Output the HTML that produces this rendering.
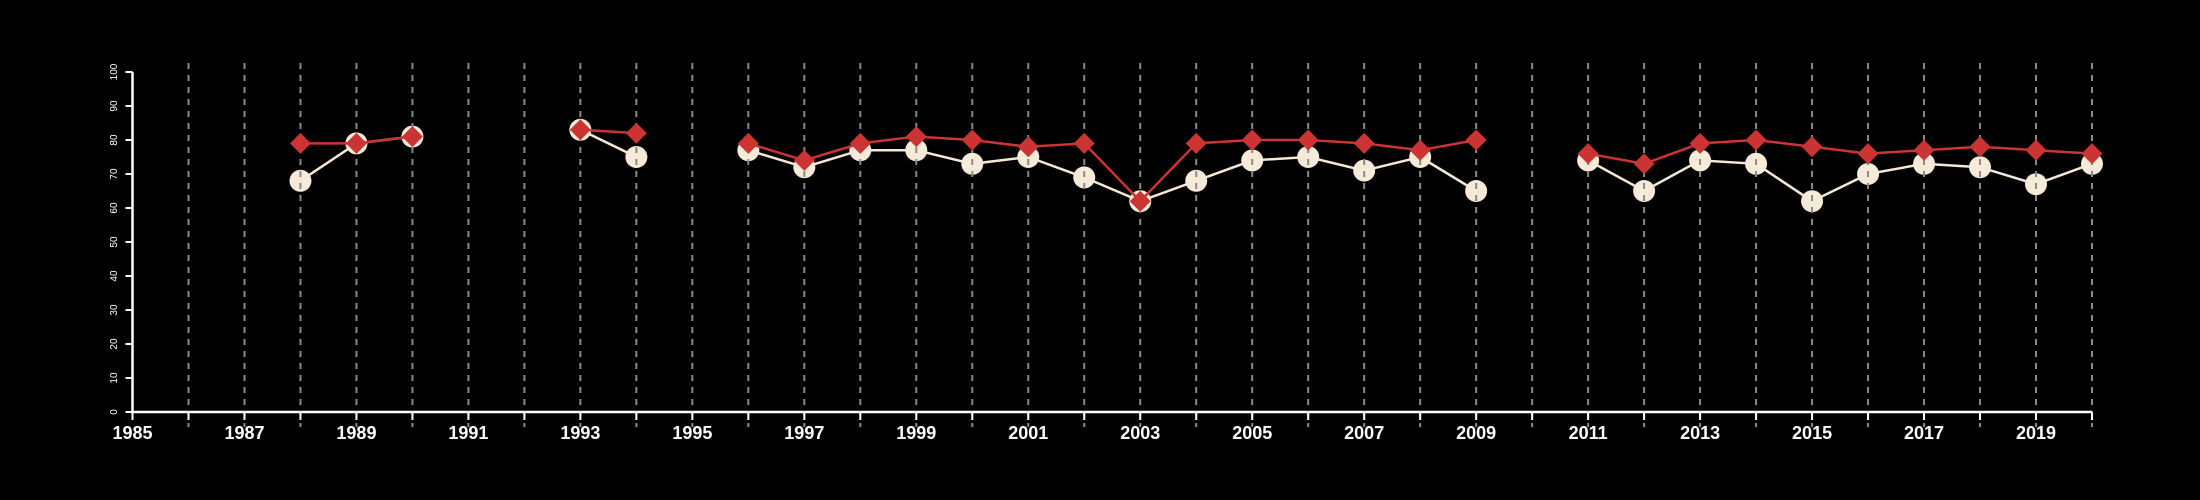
<!DOCTYPE html>
<html><head><meta charset="utf-8"><style>
html,body{margin:0;padding:0;background:#000;}
svg{display:block;font-family:"Liberation Sans",sans-serif;}
</style></head><body>
<svg id="chart" width="2200" height="500" viewBox="0 0 2200 500" xmlns="http://www.w3.org/2000/svg">
<rect width="2200" height="500" fill="#000"/>
<g id="circ-layer"></g>
<g id="grid-layer"></g>
<g id="red-layer"></g>
<g id="axis-layer"></g>
</svg>
<script>
const years = [1988,1989,1990,1991,1992,1993,1994,1995,1996,1997,1998,1999,2000,2001,2002,2003,2004,2005,2006,2007,2008,2009,2010,2011,2012,2013,2014,2015,2016,2017,2018,2019,2020];
const creamValues = [68,79,81,null,null,83,75,null,77,72,77,77,73,75,69,62,68,74,75,71,75,65,null,74,65,74,73,62,70,73,72,67,73];
const redValues = [79,79,81,null,null,83,82,null,79,74,79,81,80,78,79,62,79,80,80,79,77,80,null,76,73,79,80,78,76,77,78,77,76];
const yTicks = [0,10,20,30,40,50,60,70,80,90,100];
const xTickLabels = [1985,1987,1989,1991,1993,1995,1997,1999,2001,2003,2005,2007,2009,2011,2013,2015,2017,2019];

const NS="http://www.w3.org/2000/svg";
const X0=132.5, X1=2092, Y0=412, Y1=72;
const x = v => X0 + (v-1985)*(X1-X0)/35;
const y = v => Y0 - v*(Y0-Y1)/100;
function mk(tag, attrs, parent){const e=document.createElementNS(NS,tag);for(const k in attrs)e.setAttribute(k,attrs[k]);parent.appendChild(e);return e;}
const circL=document.getElementById('circ-layer'), gridL=document.getElementById('grid-layer'), redL=document.getElementById('red-layer'), axL=document.getElementById('axis-layer');

function segments(vals){const segs=[];let cur=[];vals.forEach((v,i)=>{if(v==null){if(cur.length)segs.push(cur);cur=[];}else cur.push([x(years[i]),y(v)]);});if(cur.length)segs.push(cur);return segs;}

segments(creamValues).forEach(s=>{const p=mk('polyline',{points:s.map(q=>q.join(',')).join(' '),fill:'none',stroke:'#f5e8d5','stroke-width':2.5},circL);
});
creamValues.forEach((v,i)=>{if(v==null)return;const c=mk('circle',{cx:x(years[i]),cy:y(v),r:11,fill:'#f8ead8'},circL);
});

for(let yr=1986;yr<=2020;yr++){const g=mk('line',{x1:x(yr),x2:x(yr),y1:63,y2:427,stroke:'#8a8a8a','stroke-width':2,'stroke-dasharray':'6 6'},gridL);
}

segments(redValues).forEach(s=>{const p=mk('polyline',{points:s.map(q=>q.join(',')).join(' '),fill:'none',stroke:'#cc3333','stroke-width':2.5},redL);
});
redValues.forEach((v,i)=>{if(v==null)return;const cx=x(years[i]),cy=y(v),d=10.5;
const p=mk('polygon',{points:`${cx},${cy-d} ${cx+d},${cy} ${cx},${cy+d} ${cx-d},${cy}`,fill:'#cc3333'},redL);
});

const xa=mk('line',{x1:x(1985),x2:x(2020),y1:Y0,y2:Y0,stroke:'#fff','stroke-width':2.5},axL);

const ya=mk('line',{x1:X0,x2:X0,y1:y(0),y2:y(100),stroke:'#fff','stroke-width':2.5},axL);

for(let yr=1985;yr<=2020;yr++){const t=mk('line',{x1:x(yr),x2:x(yr),y1:Y0,y2:Y0+8,stroke:'#fff','stroke-width':2},axL);
}
xTickLabels.forEach(l=>{const t=mk('text',{x:x(l),y:439,fill:'#fff','font-size':18,'font-weight':'bold','text-anchor':'middle'},axL);t.textContent=l;
});
yTicks.forEach(v=>{const t=mk('line',{x1:X0-7,x2:X0,y1:y(v),y2:y(v),stroke:'#fff','stroke-width':2},axL);

const l=mk('text',{x:0,y:0,fill:'#fff','font-size':10,'text-anchor':'middle',transform:`translate(117,${y(v)}) rotate(-90)`},axL);l.textContent=v;
});
</script>
</body></html>
